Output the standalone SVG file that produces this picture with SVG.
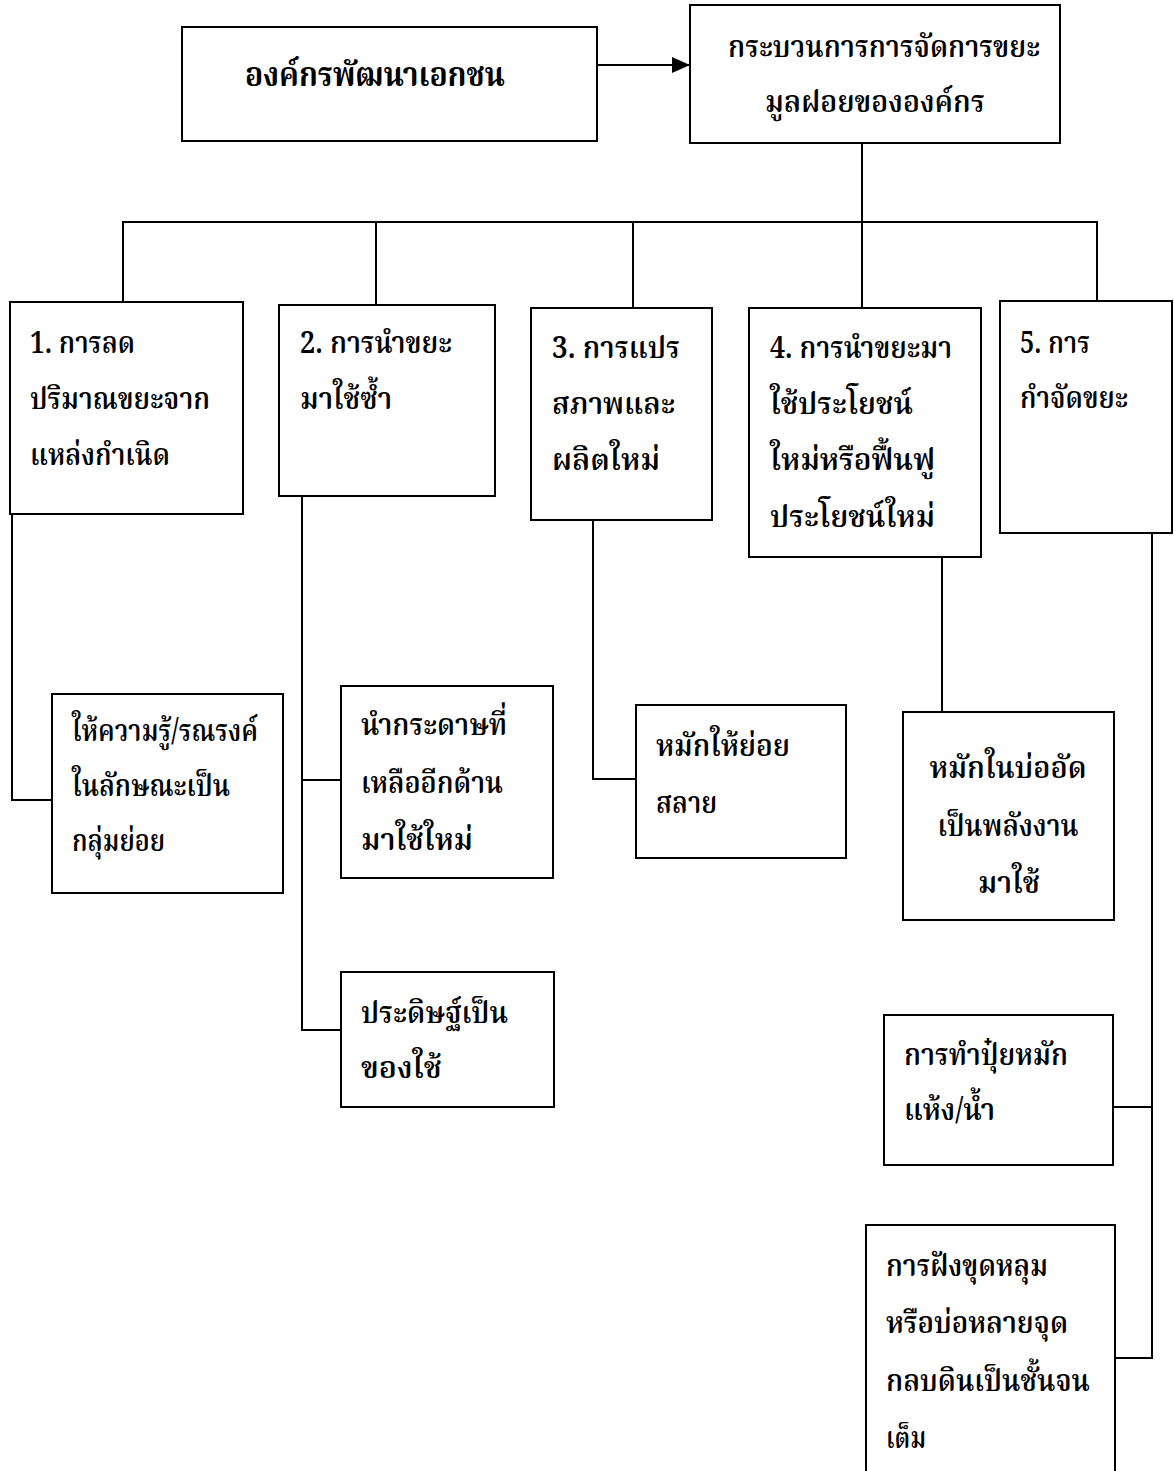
<svg xmlns="http://www.w3.org/2000/svg" width="1174" height="1471" viewBox="0 0 1174 1471">
<style>
.box{fill:#fff;stroke:#000;stroke-width:2}
.ln{fill:none;stroke:#000;stroke-width:2}
text{font-family:'Noto Serif Thai','Norasi','Kinnari','Noto Sans Thai','Garuda','Liberation Serif',serif;font-size:31px;font-weight:600;fill:#000}
.b{font-weight:bold;font-size:33px}
</style>
<defs>
<marker id="arr" markerWidth="18" markerHeight="16" refX="18" refY="8" orient="auto" markerUnits="userSpaceOnUse" viewBox="0 0 18 16">
<path d="M0,0 L18,8 L0,16 z" fill="#000"/>
</marker>
</defs>
<rect width="1174" height="1471" fill="#fff"/>
<g id="connectors">
<line class="ln" x1="597" y1="65" x2="690" y2="65" marker-end="url(#arr)"/>
<polyline class="ln" points="862,143 862,222"/>
<polyline class="ln" points="123,302 123,222 1097,222 1097,301"/>
<line class="ln" x1="376" y1="222" x2="376" y2="305"/>
<line class="ln" x1="633" y1="222" x2="633" y2="308"/>
<line class="ln" x1="862" y1="222" x2="862" y2="308"/>
<polyline class="ln" points="12,514 12,800 52,800"/>
<polyline class="ln" points="302,496 302,1030 341,1030"/>
<line class="ln" x1="302" y1="780" x2="341" y2="780"/>
<polyline class="ln" points="593,520 593,779 636,779"/>
<line class="ln" x1="942" y1="557" x2="942" y2="712"/>
<polyline class="ln" points="1152,533 1152,1358 1115,1358"/>
<line class="ln" x1="1113" y1="1107" x2="1152" y2="1107"/>
</g>
<g id="n-org">
<rect class="box" x="182" y="27" width="415" height="114"/>
<text class="b" x="375" y="86" text-anchor="middle" textLength="260" lengthAdjust="spacingAndGlyphs">องค์กรพัฒนาเอกชน</text>
</g>
<g id="n-process">
<rect class="box" x="690" y="5" width="370" height="138"/>
<text x="884" y="57" text-anchor="middle" textLength="312" lengthAdjust="spacingAndGlyphs">กระบวนการการจัดการขยะ</text>
<text x="875" y="112" text-anchor="middle" textLength="220" lengthAdjust="spacingAndGlyphs">มูลฝอยขององค์กร</text>
</g>
<g id="n1">
<rect class="box" x="10" y="302" width="233" height="212"/>
<text x="30" y="353" textLength="105" lengthAdjust="spacingAndGlyphs">1. การลด</text>
<text x="30" y="409" textLength="180" lengthAdjust="spacingAndGlyphs">ปริมาณขยะจาก</text>
<text x="30" y="465" textLength="140" lengthAdjust="spacingAndGlyphs">แหล่งกำเนิด</text>
</g>
<g id="n2">
<rect class="box" x="279" y="305" width="216" height="191"/>
<text x="300" y="353" textLength="152" lengthAdjust="spacingAndGlyphs">2. การนำขยะ</text>
<text x="300" y="409" textLength="92" lengthAdjust="spacingAndGlyphs">มาใช้ซ้ำ</text>
</g>
<g id="n3">
<rect class="box" x="531" y="308" width="181" height="212"/>
<text x="552" y="358" textLength="128" lengthAdjust="spacingAndGlyphs">3. การแปร</text>
<text x="552" y="414" textLength="123" lengthAdjust="spacingAndGlyphs">สภาพและ</text>
<text x="552" y="470" textLength="108" lengthAdjust="spacingAndGlyphs">ผลิตใหม่</text>
</g>
<g id="n4">
<rect class="box" x="749" y="308" width="232" height="249"/>
<text x="770" y="358" textLength="182" lengthAdjust="spacingAndGlyphs">4. การนำขยะมา</text>
<text x="770" y="414" textLength="143" lengthAdjust="spacingAndGlyphs">ใช้ประโยชน์</text>
<text x="770" y="470" textLength="165" lengthAdjust="spacingAndGlyphs">ใหม่หรือฟื้นฟู</text>
<text x="770" y="527" textLength="165" lengthAdjust="spacingAndGlyphs">ประโยชน์ใหม่</text>
</g>
<g id="n5">
<rect class="box" x="1000" y="301" width="172" height="232"/>
<text x="1020" y="353" textLength="70" lengthAdjust="spacingAndGlyphs">5. การ</text>
<text x="1020" y="408" textLength="108" lengthAdjust="spacingAndGlyphs">กำจัดขยะ</text>
</g>
<g id="n1a">
<rect class="box" x="52" y="694" width="231" height="199"/>
<text x="72" y="741" textLength="186" lengthAdjust="spacingAndGlyphs">ให้ความรู้/รณรงค์</text>
<text x="72" y="796" textLength="158" lengthAdjust="spacingAndGlyphs">ในลักษณะเป็น</text>
<text x="72" y="851" textLength="93" lengthAdjust="spacingAndGlyphs">กลุ่มย่อย</text>
</g>
<g id="n2a">
<rect class="box" x="341" y="686" width="212" height="192"/>
<text x="361" y="735" textLength="146" lengthAdjust="spacingAndGlyphs">นำกระดาษที่</text>
<text x="361" y="793" textLength="142" lengthAdjust="spacingAndGlyphs">เหลืออีกด้าน</text>
<text x="361" y="850" textLength="112" lengthAdjust="spacingAndGlyphs">มาใช้ใหม่</text>
</g>
<g id="n2b">
<rect class="box" x="341" y="972" width="213" height="135"/>
<text x="361" y="1023" textLength="147" lengthAdjust="spacingAndGlyphs">ประดิษฐ์เป็น</text>
<text x="361" y="1078" textLength="81" lengthAdjust="spacingAndGlyphs">ของใช้</text>
</g>
<g id="n3a">
<rect class="box" x="636" y="705" width="210" height="153"/>
<text x="656" y="756" textLength="134" lengthAdjust="spacingAndGlyphs">หมักให้ย่อย</text>
<text x="656" y="813" textLength="61" lengthAdjust="spacingAndGlyphs">สลาย</text>
</g>
<g id="n4a">
<rect class="box" x="903" y="712" width="211" height="208"/>
<text x="1008" y="778" text-anchor="middle" textLength="157" lengthAdjust="spacingAndGlyphs">หมักในบ่ออัด</text>
<text x="1008" y="836" text-anchor="middle" textLength="141" lengthAdjust="spacingAndGlyphs">เป็นพลังงาน</text>
<text x="1009" y="893" text-anchor="middle" textLength="62" lengthAdjust="spacingAndGlyphs">มาใช้</text>
</g>
<g id="n5a">
<rect class="box" x="884" y="1015" width="229" height="150"/>
<text x="904" y="1065" textLength="164" lengthAdjust="spacingAndGlyphs">การทำปุ๋ยหมัก</text>
<text x="904" y="1120" textLength="91" lengthAdjust="spacingAndGlyphs">แห้ง/น้ำ</text>
</g>
<g id="n5b">
<rect class="box" x="866" y="1225" width="249" height="250"/>
<text x="886" y="1276" textLength="162" lengthAdjust="spacingAndGlyphs">การฝังขุดหลุม</text>
<text x="886" y="1333" textLength="182" lengthAdjust="spacingAndGlyphs">หรือบ่อหลายจุด</text>
<text x="886" y="1391" textLength="204" lengthAdjust="spacingAndGlyphs">กลบดินเป็นชั้นจน</text>
<text x="886" y="1448" textLength="40" lengthAdjust="spacingAndGlyphs">เต็ม</text>
</g>
</svg>
